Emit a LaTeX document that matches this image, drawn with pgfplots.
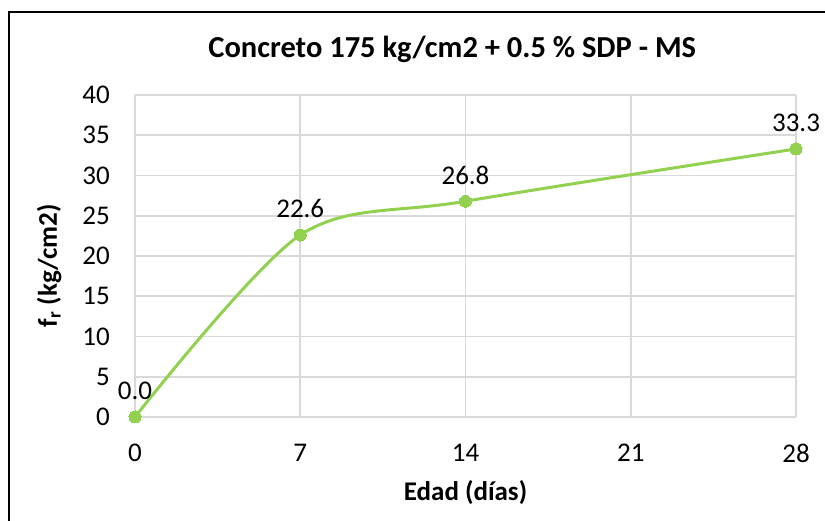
\documentclass[border=0pt]{standalone}
\usepackage{fontspec}
\setmainfont{Carlito}
\usepackage{pgfplots}
\pgfplotsset{compat=1.18}
\definecolor{lgreen}{HTML}{92D050}
\definecolor{gridc}{HTML}{D9D9D9}

\begin{document}
\begin{tikzpicture}[x=1pt,y=1pt]
\useasboundingbox (0,0) rectangle (825,521);
\draw[line width=1.5pt,black] (9,-5) -- (9,509) -- (830,509);
\begin{axis}[
  at={(135pt,104pt)},anchor=south west,
  scale only axis,width=661pt,height=322pt,
  xmin=0,xmax=28,ymin=0,ymax=40,
  xtick={0,7,14,21,28},ytick={0,5,...,40},
  axis line style={draw=none},
  major tick length=0pt,
  grid=major,grid style={gridc,line width=1.8pt},
  tick label style={font=\fontsize{27}{32}\selectfont,inner sep=0pt},
  yticklabel style={anchor=east,xshift=-25pt},
  xticklabel style={anchor=north,yshift=-27pt},
  /pgf/number format/assume math mode=true,
  title={\bfseries Concreto 175 kg/cm2 + 0.5 \% SDP - MS},
  title style={font=\fontsize{30.5}{36}\selectfont,at={(axis description cs:0.48,1.124)},anchor=center},
  xlabel={\bfseries Edad (días)},
  xlabel style={font=\fontsize{27}{32}\selectfont,at={(axis description cs:0.5,-0.235)},anchor=center},
  ylabel={\bfseries f\textsubscript{r} (kg/cm2)},
  ylabel style={font=\fontsize{27}{32}\selectfont,at={(axis description cs:-0.13,0.47)},anchor=center,rotate=0},
  clip=false,
  nodes near coords,
  point meta=explicit symbolic,
  every node near coord/.append style={font=\fontsize{27}{32}\selectfont,anchor=south,yshift=17pt,inner sep=0pt,text=black},
]
\addplot[lgreen,line width=3pt,smooth,tension=0.5,mark=*,mark size=6pt,
  mark options={fill=lgreen,draw=lgreen,line width=0pt}]
  coordinates {(0,0) [0.0] (7,22.6) [22.6] (14,26.8) [26.8] (28,33.3) [33.3]};
\end{axis}
\end{tikzpicture}
\end{document}
